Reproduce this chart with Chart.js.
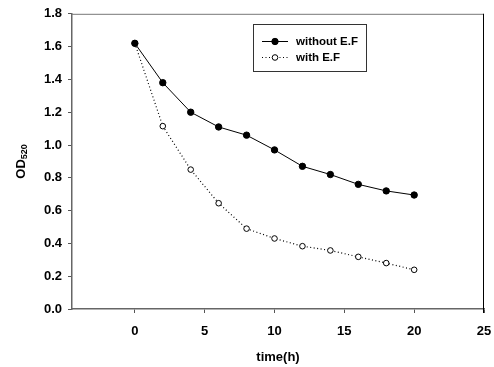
<!DOCTYPE html>
<html>
<head>
<meta charset="utf-8">
<script src="https://cdn.jsdelivr.net/npm/chart.js@4/dist/chart.umd.min.js"></script>
<style>
  html, body { margin: 0; padding: 0; background: #fff; }
  #wrap { width: 494px; height: 367px; position: relative; }
</style>
</head>
<body>
<div id="wrap"><canvas id="c"></canvas></div>
<script>
// OD520 decay over time, with / without E.F
const timeH = [0, 2, 4, 6, 8, 10, 12, 14, 16, 18, 20];
const withoutEF = [1.62, 1.38, 1.20, 1.11, 1.06, 0.97, 0.87, 0.82, 0.76, 0.72, 0.695];
const withEF = [1.62, 1.115, 0.85, 0.645, 0.49, 0.43, 0.383, 0.357, 0.318, 0.28, 0.239];
const xTicks = [0, 5, 10, 15, 20, 25];
const yTicks = [0.0, 0.2, 0.4, 0.6, 0.8, 1.0, 1.2, 1.4, 1.6, 1.8];
const seriesLabels = ['without E.F', 'with E.F'];

const FONT = '"Liberation Sans", Arial, sans-serif';

const toXY = (ys) => ys.map((y, i) => ({ x: timeH[i], y }));

// frame (top/right), axis titles and the boxed legend
const extras = {
  id: 'extras',
  afterDraw(chart) {
    const { ctx, chartArea: a } = chart;
    ctx.save();
    ctx.lineWidth = 1;
    ctx.strokeStyle = '#777';
    ctx.beginPath();
    ctx.moveTo(a.left, a.top + 0.5); ctx.lineTo(a.right, a.top + 0.5);
    ctx.stroke();
    ctx.strokeStyle = '#000';
    ctx.beginPath();
    ctx.moveTo(a.right - 0.5, a.top); ctx.lineTo(a.right - 0.5, a.bottom + 4);
    ctx.stroke();

    // x title
    ctx.fillStyle = '#000';
    ctx.font = 'bold 13px ' + FONT;
    ctx.textAlign = 'center';
    ctx.textBaseline = 'middle';
    ctx.fillText('time(h)', (a.left + a.right) / 2, 357);

    // y title OD with subscript 520
    ctx.translate(21, (a.top + a.bottom) / 2);
    ctx.rotate(-Math.PI / 2);
    ctx.font = 'bold 13px ' + FONT;
    const w1 = ctx.measureText('OD').width;
    ctx.font = 'bold 9px ' + FONT;
    const w2 = ctx.measureText('520').width;
    const x0 = -(w1 + w2) / 2;
    ctx.textAlign = 'left';
    ctx.font = 'bold 13px ' + FONT;
    ctx.fillText('OD', x0, 0);
    ctx.font = 'bold 9px ' + FONT;
    ctx.fillText('520', x0 + w1, 4);
    ctx.restore();

    // legend box
    ctx.save();
    const bx = 253.5, by = 24.5, bw = 113, bh = 47;
    ctx.fillStyle = '#fff';
    ctx.fillRect(bx, by, bw, bh);
    ctx.strokeStyle = '#333';
    ctx.lineWidth = 1;
    ctx.strokeRect(bx, by, bw, bh);
    const rows = [41, 57];
    chart.data.datasets.forEach((ds, i) => {
      const y = rows[i];
      ctx.strokeStyle = '#000';
      ctx.lineWidth = 1;
      ctx.setLineDash(ds.borderDash || []);
      ctx.beginPath();
      ctx.moveTo(262, y + 0.5); ctx.lineTo(288, y + 0.5);
      ctx.stroke();
      ctx.setLineDash([]);
      ctx.beginPath();
      ctx.arc(275, y + 0.5, ds.pointRadius, 0, Math.PI * 2);
      ctx.fillStyle = ds.pointBackgroundColor;
      ctx.fill();
      ctx.stroke();
      ctx.fillStyle = '#000';
      ctx.font = 'bold 11.5px ' + FONT;
      ctx.textAlign = 'left';
      ctx.textBaseline = 'middle';
      ctx.fillText(ds.label, 296, y + 1);
    });
    ctx.restore();
  }
};

new Chart(document.getElementById('c'), {
  type: 'scatter',
  data: {
    datasets: [
      {
        label: seriesLabels[0],
        data: toXY(withoutEF),
        showLine: true,
        borderColor: '#000',
        borderWidth: 1,
        pointRadius: 3.2,
        pointBackgroundColor: '#000',
        pointBorderColor: '#000',
        pointBorderWidth: 1,
      },
      {
        label: seriesLabels[1],
        data: toXY(withEF),
        showLine: true,
        borderColor: '#000',
        borderWidth: 1.2,
        borderDash: [1, 2.5],
        pointRadius: 2.8,
        pointBackgroundColor: '#fff',
        pointBorderColor: '#000',
        pointBorderWidth: 1,
      },
    ],
  },
  options: {
    responsive: true,
    maintainAspectRatio: false,
    animation: false,
    layout: { padding: { left: 0, top: 13, right: 0, bottom: 0 } },
    plugins: { legend: { display: false }, tooltip: { enabled: false } },
    scales: {
      x: {
        type: 'linear',
        min: -4.5, max: 25,
        afterBuildTicks: (s) => { s.ticks = xTicks.map(v => ({ value: v })); },
        afterFit: (s) => { s.height = 58; s.paddingRight = 10; s.paddingLeft = 0; },
        grid: { drawOnChartArea: false, tickLength: 4, color: '#555' },
        border: { display: true, color: '#666', width: 1.5 },
        ticks: { color: '#000', font: { family: FONT, size: 13, weight: 'bold' }, padding: 11, maxRotation: 0 },
      },
      y: {
        type: 'linear',
        min: 0, max: 1.8,
        afterBuildTicks: (s) => { s.ticks = yTicks.map(v => ({ value: v })); },
        afterFit: (s) => { s.width = 72; },
        grid: { drawOnChartArea: false, tickLength: 4, color: '#555' },
        border: { display: true, color: '#666', width: 1.5 },
        ticks: { color: '#000', font: { family: FONT, size: 13, weight: 'bold' }, padding: 6, callback: (v) => v.toFixed(1) },
      },
    },
  },
  plugins: [extras],
});
</script>
</body>
</html>
